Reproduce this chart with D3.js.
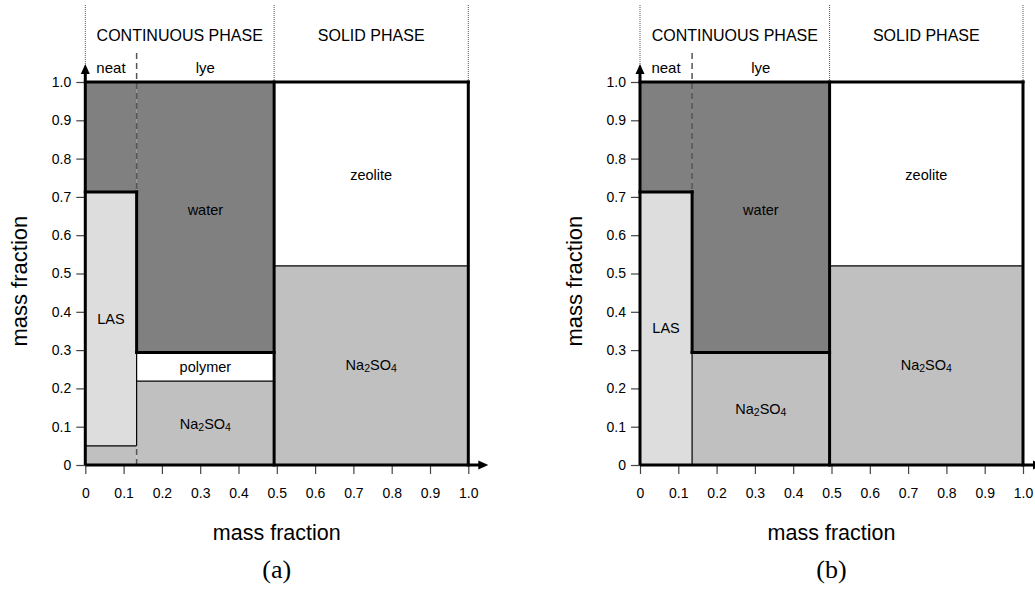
<!DOCTYPE html>
<html>
<head>
<meta charset="utf-8">
<script src="https://cdn.jsdelivr.net/npm/d3@7"></script>
<style>
  html, body { margin: 0; padding: 0; background: #fff; }
  svg { display: block; }
  text { font-family: "Liberation Sans", Arial, sans-serif; fill: #000; }
</style>
</head>
<body>
<svg id="chart" width="1035" height="594"></svg>
<script>
// ---- data (mass fractions) ----
const panelNames = ["(a)", "(b)"];
const tickValues = [0, 0.1, 0.2, 0.3, 0.4, 0.5, 0.6, 0.7, 0.8, 0.9, 1.0];
const tickLabels = ["0", "0.1", "0.2", "0.3", "0.4", "0.5", "0.6", "0.7", "0.8", "0.9", "1.0"];
const phaseNames = ["CONTINUOUS PHASE", "SOLID PHASE"];
const subPhaseNames = ["neat", "lye"];

// width of the neat / continuous phase on the x axis
const neatWidth = [0.134, 0.136];
const continuousWidth = [0.493, 0.495];

// stacked components per column: [name, bottom, top]
const neatA = [["Na2SO4", 0, 0.05], ["LAS", 0.05, 0.713], ["water", 0.713, 1.0]];
const lyeA = [["Na2SO4", 0, 0.219], ["polymer", 0.219, 0.294], ["water", 0.294, 1.0]];
const solidA = [["Na2SO4", 0, 0.52], ["zeolite", 0.52, 1.0]];

const neatB = [["LAS", 0, 0.713], ["water", 0.713, 1.0]];
const lyeB = [["Na2SO4", 0, 0.294], ["water", 0.294, 1.0]];
const solidB = [["Na2SO4", 0, 0.52], ["zeolite", 0.52, 1.0]];

// label anchors per panel: [text, column, y]
const labelsA = [["LAS", "neat", 0.38], ["water", "lye", 0.665], ["polymer", "lye", 0.2565],
                 ["Na2SO4", "lye", 0.108], ["zeolite", "solid", 0.757], ["Na2SO4", "solid", 0.26]];
const labelsB = [["LAS", "neat", 0.357], ["water", "lye", 0.665],
                 ["Na2SO4", "lye", 0.147], ["zeolite", "solid", 0.757], ["Na2SO4", "solid", 0.26]];

// ---- styling ----
const fills = { water: "#808080", LAS: "#dddddd", Na2SO4: "#c0c0c0", polymer: "#ffffff", zeolite: "#ffffff" };
const panelLeft = [85.3, 640];
const plotSize = 383;
const plotBottom = 465;

const svg = d3.select("#chart");

function drawPanel(p) {
  const neat = p === 0 ? neatA : neatB;
  const lye = p === 0 ? lyeA : lyeB;
  const solid = p === 0 ? solidA : solidB;
  const labels = p === 0 ? labelsA : labelsB;
  const nw = neatWidth[p], cw = continuousWidth[p];

  const x = d3.scaleLinear().domain([0, 1]).range([panelLeft[p], panelLeft[p] + plotSize]);
  const y = d3.scaleLinear().domain([0, 1]).range([plotBottom, plotBottom - plotSize]);
  const g = svg.append("g");

  const columns = [
    { key: "neat", x0: 0, x1: nw, parts: neat },
    { key: "lye", x0: nw, x1: cw, parts: lye },
    { key: "solid", x0: cw, x1: 1, parts: solid }
  ];
  const colByKey = Object.fromEntries(columns.map(c => [c.key, c]));

  // filled regions
  const cells = columns.flatMap(c => c.parts.map(d => ({ x0: c.x0, x1: c.x1, name: d[0], y0: d[1], y1: d[2] })));
  g.selectAll("rect.cell").data(cells).join("rect")
    .attr("x", d => x(d.x0)).attr("width", d => x(d.x1) - x(d.x0))
    .attr("y", d => y(d.y1)).attr("height", d => y(d.y0) - y(d.y1))
    .attr("fill", d => fills[d.name]);

  // dotted phase separators above the plot
  const topY = y(1);
  g.selectAll("line.phase").data([0, cw, 1]).join("line")
    .attr("x1", d => x(d)).attr("x2", d => x(d))
    .attr("y1", 5).attr("y2", topY)
    .attr("stroke", "#555").attr("stroke-width", 1).attr("stroke-dasharray", "1,1");

  // dashed neat/lye separator (header + through water, and under LAS in a)
  const lasTop = neat.find(d => d[0] === "LAS")[2];
  const lasBottom = neat.find(d => d[0] === "LAS")[1];
  const dash = [[null, lasTop]];
  if (lasBottom > 0) dash.push([0, lasBottom]);
  g.selectAll("line.dash").data(dash).join("line")
    .attr("x1", x(nw)).attr("x2", x(nw))
    .attr("y1", d => d[0] === null ? 53 : y(d[0]))
    .attr("y2", d => y(d[1]))
    .attr("stroke", "#555").attr("stroke-width", 1.5).attr("stroke-dasharray", "6,4");

  // thin boundaries
  const waterBottom = lye.find(d => d[0] === "water")[1];
  const zeoBottom = solid.find(d => d[0] === "zeolite")[1];
  const thin = [
    [nw, lasBottom, nw, waterBottom],
    [cw, zeoBottom, 1, zeoBottom]
  ];
  if (lasBottom > 0) thin.push([0, lasBottom, nw, lasBottom]);
  const poly = lye.find(d => d[0] === "polymer");
  if (poly) thin.push([nw, poly[1], cw, poly[1]]);
  g.selectAll("line.thin").data(thin).join("line")
    .attr("x1", d => x(d[0])).attr("y1", d => y(d[1]))
    .attr("x2", d => x(d[2])).attr("y2", d => y(d[3]))
    .attr("stroke", "#000").attr("stroke-width", 1.2);

  // thick boundaries
  const thick = [
    [0, 1, 1, 1],
    [1, 0, 1, 1],
    [cw, 0, cw, 1],
    [0, lasTop, nw, lasTop],
    [nw, lasTop, nw, waterBottom],
    [nw, waterBottom, cw, waterBottom]
  ];
  g.selectAll("line.thick").data(thick).join("line")
    .attr("x1", d => x(d[0])).attr("y1", d => y(d[1]))
    .attr("x2", d => x(d[2])).attr("y2", d => y(d[3]))
    .attr("stroke", "#000").attr("stroke-width", 3).attr("stroke-linecap", "square");

  // axes with arrows
  const fmt = v => tickLabels[tickValues.indexOf(v)];
  const yAxis = g.append("g").attr("transform", `translate(${x(0)},0)`)
    .call(d3.axisLeft(y).tickValues(tickValues).tickFormat(fmt).tickSize(9).tickPadding(5));
  const xAxis = g.append("g").attr("transform", `translate(0,${y(0)})`)
    .call(d3.axisBottom(x).tickValues(tickValues).tickFormat(fmt).tickSize(9).tickPadding(14));
  [yAxis, xAxis].forEach(a => {
    a.select(".domain").remove();
    a.selectAll(".tick line").attr("stroke", "#444").attr("stroke-width", 1.2);
    a.selectAll(".tick text").attr("font-size", 14).attr("fill", "#000")
      .attr("font-family", "'Liberation Sans', Arial, sans-serif");
  });

  g.append("line").attr("x1", x(0)).attr("x2", x(0)).attr("y1", y(0)).attr("y2", y(1) - 10)
    .attr("stroke", "#000").attr("stroke-width", 3);
  g.append("path").attr("d", `M${x(0)},${y(1) - 18} l-4.5,10 h9 z`).attr("fill", "#000");
  g.append("line").attr("x1", x(0)).attr("x2", x(1) + 12).attr("y1", y(0)).attr("y2", y(0))
    .attr("stroke", "#000").attr("stroke-width", 3);
  g.append("path").attr("d", `M${x(1) + 20},${y(0)} l-10,-4.5 v9 z`).attr("fill", "#000");

  // headers
  g.append("text").attr("x", x(cw / 2)).attr("y", 40.5).attr("text-anchor", "middle")
    .attr("font-size", 16).text(phaseNames[0]);
  g.append("text").attr("x", x((cw + 1) / 2)).attr("y", 40.5).attr("text-anchor", "middle")
    .attr("font-size", 16).text(phaseNames[1]);
  g.append("text").attr("x", x(nw / 2)).attr("y", 73).attr("text-anchor", "middle")
    .attr("font-size", 15).text(subPhaseNames[0]);
  g.append("text").attr("x", x((nw + cw) / 2)).attr("y", 73).attr("text-anchor", "middle")
    .attr("font-size", 15).text(subPhaseNames[1]);

  // region labels
  labels.forEach(([name, col, yv]) => {
    const c = colByKey[col];
    const t = g.append("text").attr("x", x((c.x0 + c.x1) / 2)).attr("y", y(yv))
      .attr("text-anchor", "middle").attr("dominant-baseline", "central").attr("font-size", 14.5);
    if (name === "Na2SO4") {
      t.append("tspan").text("Na");
      t.append("tspan").attr("font-size", 10.5).attr("dy", 3).text("2");
      t.append("tspan").attr("dy", -3).text("SO");
      t.append("tspan").attr("font-size", 10.5).attr("dy", 3).text("4");
    } else {
      t.text(name);
    }
  });

  // axis titles and panel caption
  g.append("text").attr("x", x(0.5)).attr("y", 540).attr("text-anchor", "middle")
    .attr("font-size", 21.5).text("mass fraction");
  g.append("text").attr("transform", `translate(${x(0) - 58},${y(0.48)}) rotate(-90)`)
    .attr("text-anchor", "middle").attr("font-size", 22).text("mass fraction");
  g.append("text").attr("x", x(0.5)).attr("y", 578).attr("text-anchor", "middle")
    .attr("font-size", 26).style("font-family", "'Liberation Serif', 'Times New Roman', serif")
    .text(panelNames[p]);
}

drawPanel(0);
drawPanel(1);
</script>
</body>
</html>
